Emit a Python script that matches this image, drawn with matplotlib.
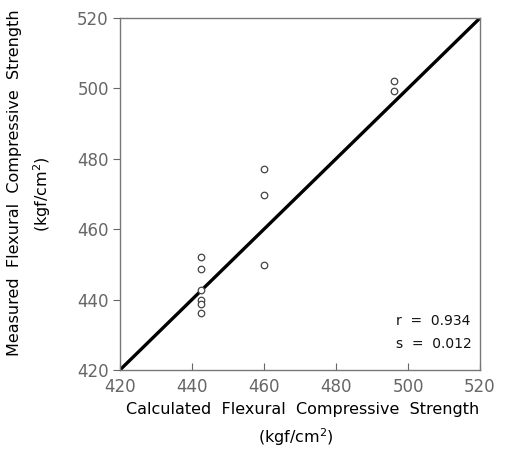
import numpy as np
import matplotlib.pyplot as plt

# calculated vs measured flexural compressive strength (kgf/cm2)
calc_x = [442.4, 442.4, 442.4, 442.4, 442.4, 442.4, 460, 460, 460, 496, 496]
meas_y = [452.1, 448.7, 442.7, 439.9, 438.8, 436.2, 477.1, 469.7, 449.8, 502, 499.4]
ticks = [420, 440, 460, 480, 500, 520]
r_val = 0.934
s_val = 0.012

fig = plt.figure(figsize=(5.08, 4.74), dpi=100)
ax = fig.add_axes([0.236, 0.2194, 0.709, 0.7426])

# 1:1 line
ax.plot([420, 520], [420, 520], color='black', lw=2.4, solid_capstyle='butt')
ax.scatter(calc_x, meas_y, s=22, facecolors='white', edgecolors='#444444',
           linewidths=0.9, zorder=3)

ax.set_xlim(420, 520)
ax.set_ylim(420, 520)
ax.set_xticks(ticks)
ax.set_yticks(ticks)
for sp in ax.spines.values():
    sp.set_color('#777777')
    sp.set_linewidth(1.0)
ax.tick_params(axis='x', direction='in', length=5, color='#666666',
               labelsize=12, labelcolor='#666666', pad=6)
ax.tick_params(axis='y', direction='out', length=5, color='#666666',
               labelsize=12, labelcolor='#666666', pad=3)

ax.text(0.767, 0.138, 'r  =  %.3f' % r_val, transform=ax.transAxes,
        fontsize=10, ha='left', va='center', color='#111111')
ax.text(0.767, 0.075, 's  =  %.3f' % s_val, transform=ax.transAxes,
        fontsize=10, ha='left', va='center', color='#111111')

fig.text(0.596, 0.137, 'Calculated  Flexural  Compressive  Strength',
         ha='center', va='center', fontsize=11.5)
fig.text(0.583, 0.078, '(kgf/cm$^2$)', ha='center', va='center', fontsize=11.5)
fig.text(0.028, 0.615, 'Measured  Flexural  Compressive  Strength',
         ha='center', va='center', rotation=90, fontsize=11.5)
fig.text(0.083, 0.59, '(kgf/cm$^2$)', ha='center', va='center',
         rotation=90, fontsize=11.5)

fig.savefig('out.png', dpi=100)
